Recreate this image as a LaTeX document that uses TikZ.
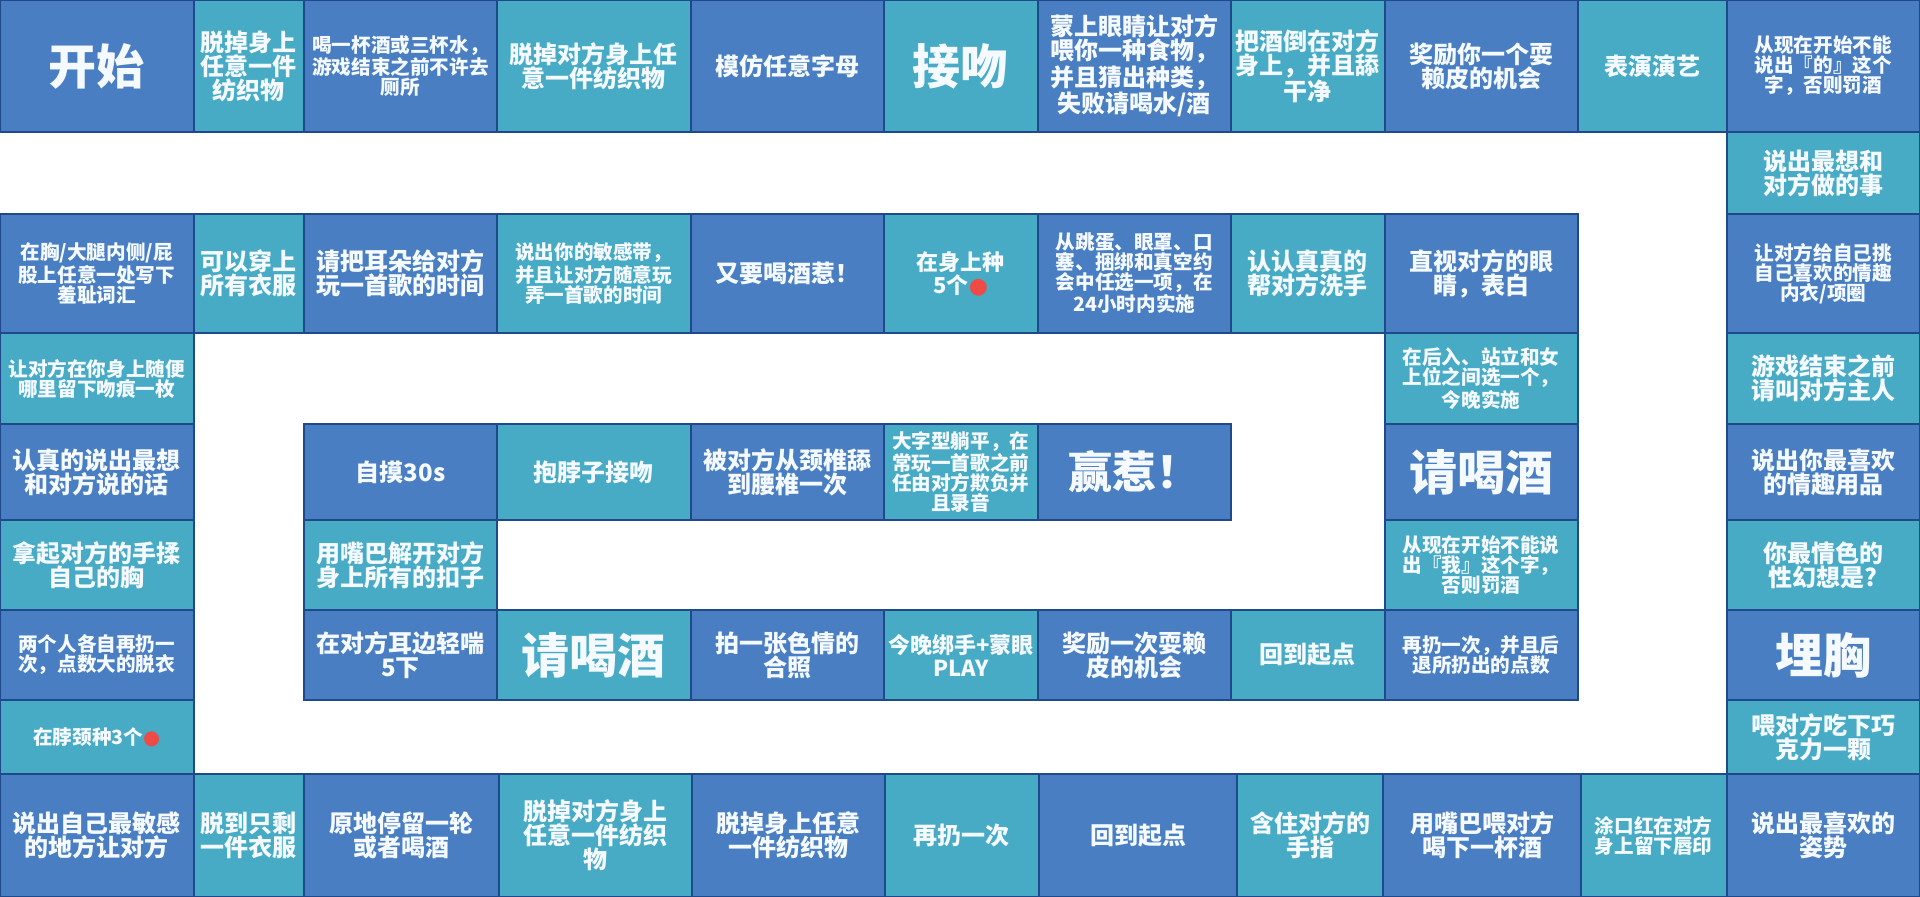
\documentclass[tikz,border=0pt]{standalone}
\usepackage{fontspec}
\newfontfamily\cjk{Noto Sans CJK SC}
\newfontfamily\dejavu{DejaVu Sans}
\definecolor{cellblue}{HTML}{4A7EC2}
\definecolor{cellteal}{HTML}{48ABC6}
\definecolor{celledge}{HTML}{1E4A8C}
\definecolor{cellink}{HTML}{F4FAFF}
\definecolor{dotred}{HTML}{EE4B46}
\tikzset{
  dk/.style={fill=cellblue,draw=celledge,line width=1pt},
  tl/.style={fill=cellteal,draw=celledge,line width=1pt},
  lbl/.style={text=cellink,align=center,inner sep=0pt},
  txs/.style={font=\cjk\bfseries\fontsize{9.8}{10}\selectfont},
  txm/.style={font=\cjk\bfseries\fontsize{12}{12}\selectfont},
  txn/.style={font=\cjk\bfseries\fontsize{11}{11.5}\selectfont},
  txl/.style={font=\cjk\bfseries\fontsize{24}{24}\selectfont},
  txw/.style={font=\cjk\bfseries\fontsize{22}{22}\selectfont},
}
\newcommand{\cell}[8]{%
  \path[#6] (#2,#3) rectangle (#4,#5);
  \node[lbl,#7] (#1) at ({(#2+#4)/2},{(#3+#5)/2}) {#8};}
\newcommand{\reddot}{\textcolor{dotred}{\dejavu ●}}
\begin{document}
\begin{tikzpicture}[x=0.5pt,y=-0.5pt]
\useasboundingbox[fill=white] (0,0) rectangle (1920,897);
% top row
\cell{t1}{0}{0}{193.5}{132}{dk}{txl}{开始}
\cell{t2}{193.5}{0}{304}{132}{tl}{txm}{脱掉身上\\任意一件\\纺织物}
\cell{t3}{304}{0}{497}{132}{dk}{txs}{喝一杯酒或三杯水，\\游戏结束之前不许去\\厕所}
\cell{t4}{497}{0}{690.5}{132}{tl}{txm}{脱掉对方身上任\\意一件纺织物}
\cell{t5}{690.5}{0}{884}{132}{dk}{txm}{模仿任意字母}
\cell{t6}{884}{0}{1037.5}{132}{tl}{txl}{接吻}
\cell{t7}{1037.5}{0}{1231}{132}{dk}{txm}{蒙上眼睛让对方\\喂你一种食物，\\并且猜出种类，\\失败请喝水/酒}
\cell{t8}{1231}{0}{1384.5}{132}{tl}{txm}{把酒倒在对方\\身上，并且舔\\干净}
\cell{t9}{1384.5}{0}{1577.5}{132}{dk}{txm}{奖励你一个耍\\赖皮的机会}
\cell{t10}{1577.5}{0}{1726.5}{132}{tl}{txm}{表演演艺}
\cell{t11}{1726.5}{0}{1920}{132}{dk}{txs}{从现在开始不能\\说出『的』这个\\字，否则罚酒}
% right column
\cell{r1}{1726.5}{132}{1920}{214}{tl}{txm}{说出最想和\\对方做的事}
\cell{r2}{1726.5}{214}{1920}{333}{dk}{txs}{让对方给自己挑\\自己喜欢的情趣\\内衣/项圈}
\cell{r3}{1726.5}{333}{1920}{424}{tl}{txm}{游戏结束之前\\请叫对方主人}
\cell{r4}{1726.5}{424}{1920}{520}{dk}{txm}{说出你最喜欢\\的情趣用品}
\cell{r5}{1726.5}{520}{1920}{610}{tl}{txm}{你最情色的\\性幻想是?}
\cell{r6}{1726.5}{610}{1920}{700}{dk}{txl}{埋胸}
\cell{r7}{1726.5}{700}{1920}{774}{tl}{txm}{喂对方吃下巧\\克力一颗}
\cell{r8}{1726.5}{774}{1920}{897}{dk}{txm}{说出最喜欢的\\姿势}
% bottom row
\cell{b1}{1581}{774}{1726.5}{897}{tl}{txs}{涂口红在对方\\身上留下唇印}
\cell{b2}{1383}{774}{1581}{897}{dk}{txm}{用嘴巴喂对方\\喝下一杯酒}
\cell{b3}{1237}{774}{1383}{897}{tl}{txm}{含住对方的\\手指}
\cell{b4}{1039}{774}{1237}{897}{dk}{txm}{回到起点}
\cell{b5}{884.5}{774}{1039}{897}{tl}{txm}{再扔一次}
\cell{b6}{692}{774}{884.5}{897}{dk}{txm}{脱掉身上任意\\一件纺织物}
\cell{b7}{499}{774}{692}{897}{tl}{txm}{脱掉对方身上\\任意一件纺织\\物}
\cell{b8}{304}{774}{499}{897}{dk}{txm}{原地停留一轮\\或者喝酒}
\cell{b9}{193.5}{774}{304}{897}{tl}{txm}{脱到只剩\\一件衣服}
\cell{b10}{0}{774}{193.5}{897}{dk}{txm}{说出自己最敏感\\的地方让对方}
% left column
\cell{l1}{0}{700}{193.5}{774}{tl}{txs}{在脖颈种3个\reddot}
\cell{l2}{0}{610}{193.5}{700}{dk}{txs}{两个人各自再扔一\\次，点数大的脱衣}
\cell{l3}{0}{520}{193.5}{610}{tl}{txm}{拿起对方的手揉\\自己的胸}
\cell{l4}{0}{424}{193.5}{520}{dk}{txm}{认真的说出最想\\和对方说的话}
\cell{l5}{0}{333}{193.5}{424}{tl}{txs}{让对方在你身上随便\\哪里留下吻痕一枚}
% second row
\cell{m1}{0}{214}{193.5}{333}{dk}{txs}{在胸/大腿内侧/屁\\股上任意一处写下\\羞耻词汇}
\cell{m2}{193.5}{214}{304}{333}{tl}{txm}{可以穿上\\所有衣服}
\cell{m3}{304}{214}{497}{333}{dk}{txm}{请把耳朵给对方\\玩一首歌的时间}
\cell{m4}{497}{214}{690.5}{333}{tl}{txs}{说出你的敏感带，\\并且让对方随意玩\\弄一首歌的时间}
\cell{m5}{690.5}{214}{884}{333}{dk}{txm}{又要喝酒惹！}
\cell{m6}{884}{214}{1037.5}{333}{tl}{txn}{在身上种\\5个\reddot}
\cell{m7}{1037.5}{214}{1231}{333}{dk}{txs}{从跳蛋、眼罩、口\\塞、捆绑和真空约\\会中任选一项，在\\24小时内实施}
\cell{m8}{1231}{214}{1384.5}{333}{tl}{txm}{认认真真的\\帮对方洗手}
\cell{m9}{1384.5}{214}{1577.5}{333}{dk}{txm}{直视对方的眼\\睛，表白}
% inner right column
\cell{c1}{1384.5}{333}{1577.5}{424}{tl}{txs}{在后入、站立和女\\上位之间选一个，\\今晚实施}
\cell{c2}{1384.5}{424}{1577.5}{520}{dk}{txl}{请喝酒}
\cell{c3}{1384.5}{520}{1577.5}{610}{tl}{txs}{从现在开始不能说\\出『我』这个字，\\否则罚酒}
\cell{c4}{1384.5}{610}{1577.5}{700}{dk}{txs}{再扔一次，并且后\\退所扔出的点数}
% fifth row
\cell{d1}{1231}{610}{1384.5}{700}{tl}{txm}{回到起点}
\cell{d2}{1037.5}{610}{1231}{700}{dk}{txm}{奖励一次耍赖\\皮的机会}
\cell{d3}{884}{610}{1037.5}{700}{tl}{txn}{今晚绑手+蒙眼\\PLAY}
\cell{d4}{690.5}{610}{884}{700}{dk}{txm}{拍一张色情的\\合照}
\cell{d5}{497}{610}{690.5}{700}{tl}{txl}{请喝酒}
\cell{d6}{304}{610}{497}{700}{dk}{txm}{在对方耳边轻喘\\5下}
\cell{e0}{304}{520}{497}{610}{tl}{txm}{用嘴巴解开对方\\身上所有的扣子}
% fourth row
\cell{e1}{304}{424}{497}{520}{dk}{txm}{自摸30s}
\cell{e2}{497}{424}{690.5}{520}{tl}{txm}{抱脖子接吻}
\cell{e3}{690.5}{424}{884}{520}{dk}{txm}{被对方从颈椎舔\\到腰椎一次}
\cell{e4}{884}{424}{1037.5}{520}{tl}{txs}{大字型躺平，在\\常玩一首歌之前\\任由对方欺负并\\且录音}
\cell{e5}{1037.5}{424}{1231}{520}{dk}{txw}{赢惹！}
\end{tikzpicture}
\end{document}
